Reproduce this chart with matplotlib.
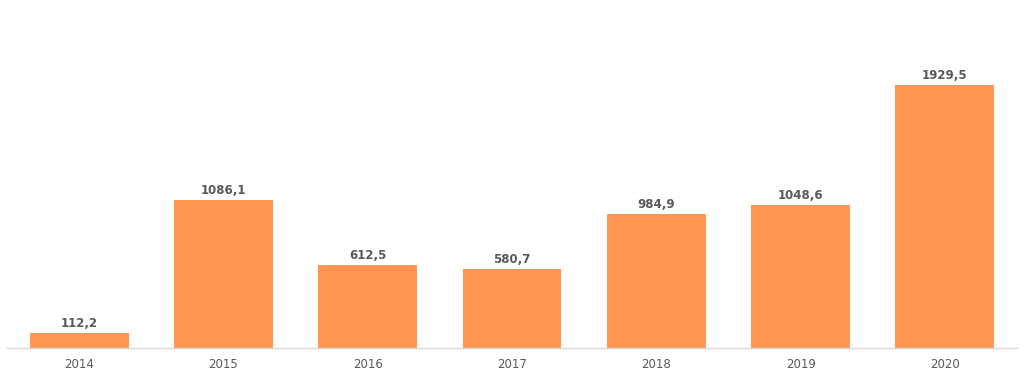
import matplotlib.pyplot as plt

years = ["2014", "2015", "2016", "2017", "2018", "2019", "2020"]
values = [112.2, 1086.1, 612.5, 580.7, 984.9, 1048.6, 1929.5]

bar_color = "#FF9651"
text_color = "#595959"

fig = plt.figure(figsize=(10.24, 3.76), dpi=100)
ax = fig.add_axes([7 / 1024, 28 / 376, 1010 / 1024, 348 / 376])

x = range(len(years))
bars = ax.bar(x, values, width=0.686, color=bar_color, zorder=2)

for rect, v in zip(bars, values):
    label = f"{v:.1f}".replace(".", ",")
    ax.annotate(label, (rect.get_x() + rect.get_width() / 2, rect.get_height()),
                xytext=(0, 2), textcoords="offset points",
                ha="center", va="bottom", fontsize=8.5, fontweight="bold",
                color=text_color)

ax.set_xlim(-0.5, len(years) - 0.5)
ax.set_ylim(0, 2553)
ax.set_xticks(list(x))
ax.set_xticklabels(years, fontsize=8.5, color=text_color)
ax.tick_params(axis="x", length=0, pad=7.5)
ax.set_yticks([])

for side in ["top", "right", "left"]:
    ax.spines[side].set_visible(False)
ax.spines["bottom"].set_color("#D9D9D9")
ax.spines["bottom"].set_linewidth(1)

fig.savefig("out.png", dpi=100)
